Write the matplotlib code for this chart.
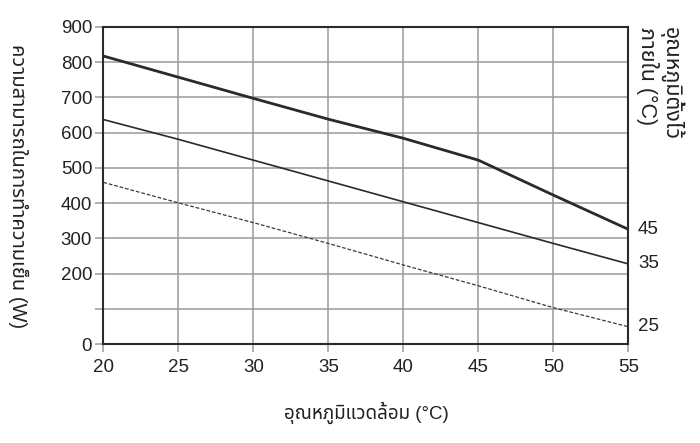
import matplotlib
matplotlib.use('agg')
import matplotlib.pyplot as plt

# ambient temperature (C)
temps = [20, 25, 30, 35, 40, 45, 50, 55]
# cooling capacity (W) for each inside set temperature
cap_45 = [817, 757, 697, 638, 584, 522, 423, 326]
cap_35 = [637, 581, 522, 463, 404, 345, 286, 228]
cap_25 = [459, 401, 345, 286, 225, 166, 104, 50]
set_labels = ['45', '35', '25']

yticks = [0, 100, 200, 300, 400, 500, 600, 700, 800, 900]
ytick_labels = ['0', '', '200', '300', '400', '500', '600', '700', '800', '900']
xticks = [20, 25, 30, 35, 40, 45, 50, 55]

fonts = ['Liberation Sans', 'Noto Sans Thai', 'Noto Sans', 'DejaVu Sans']
plt.rcParams['font.family'] = fonts

fig = plt.figure(figsize=(7, 4.43), dpi=100)
ax = fig.add_axes([0.1476, 0.2226, 0.75, 0.7171])

ax.plot(temps, cap_45, color='#2a2a2a', lw=2.0, zorder=3)
ax.plot(temps, cap_35, color='#2a2a2a', lw=1.2, zorder=3)
ax.plot(temps, cap_25, color='#3a3a3a', lw=0.9, ls=(0, (3, 1.5)), zorder=3)

for vals, lab in zip([cap_45, cap_35, cap_25], set_labels):
    ax.annotate(lab, xy=(temps[-1], vals[-1]), xytext=(7, 0),
                textcoords='offset points', va='center', ha='left',
                fontsize=13.5, color='#222222')

ax.set_xlim(20, 55)
ax.set_ylim(0, 900)
ax.set_xticks(xticks)
ax.set_yticks(yticks)
ax.set_yticklabels(ytick_labels)
ax.grid(True, color='#9a9a9a', lw=1.1)
ax.set_axisbelow(True)
for s in ax.spines.values():
    s.set_color('#2a2a2a')
    s.set_linewidth(1.5)
ax.tick_params(axis='both', direction='out', length=5.5, width=1.1,
               color='#9a9a9a', labelsize=13.5, labelcolor='#222222', pad=2.5)
ax.tick_params(axis='x', pad=5)

fig.text(366 / 700, 1 - 413 / 443, 'อุณหภูมิแวดล้อม (°C)', fontsize=13.5,
         ha='center', va='center', color='#222222')
fig.text(0.026, 0.58, 'ความสามารถในการทำความเย็น (W)', rotation=-90,
         ha='center', va='center', fontsize=14.5, color='#222222')
fig.text(660 / 700, 1 - 27 / 443, 'อุณหภูมิตั้งไว้\nภายใน (°C)', rotation=-90,
         ha='center', va='top', fontsize=15.5, color='#222222',
         multialignment='left', linespacing=1.0)

fig.savefig('out.png', dpi=100)
